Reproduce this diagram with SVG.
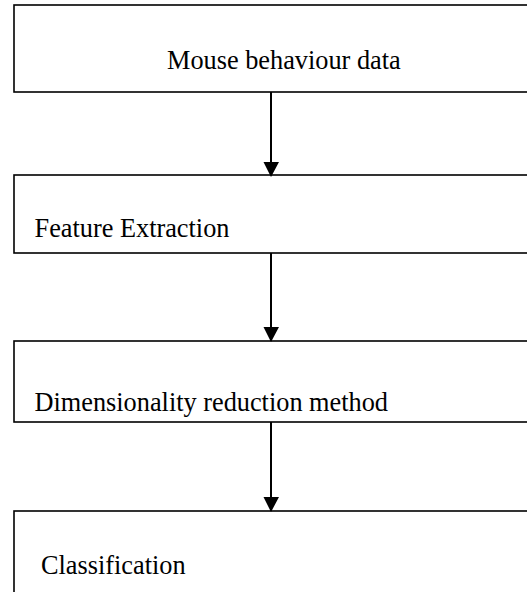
<svg xmlns="http://www.w3.org/2000/svg" width="527" height="592" viewBox="0 0 527 592">
<style>
.box{fill:#fff;stroke:#000;stroke-width:1.6}
.lbl{font-family:"Liberation Serif","Times New Roman",serif;font-size:26.3px;fill:#000}
.conn{stroke:#000;stroke-width:2;fill:none;marker-end:url(#ah)}
</style>
<defs>
<marker id="ah" markerUnits="userSpaceOnUse" markerWidth="16" markerHeight="16" refX="8" refY="15" orient="auto-start-reverse" viewBox="0 0 16 16">
<path d="M0,0 L16,0 L8,15 Z" fill="#000" transform="rotate(-90 8 8)"/>
</marker>
</defs>
<rect width="527" height="592" fill="#fff"/>
<g id="n1"><rect class="box" x="14" y="5" width="600" height="87"/><text class="lbl" x="167" y="68.5">Mouse behaviour data</text></g>
<g id="n2"><rect class="box" x="14" y="175" width="600" height="78"/><text class="lbl" x="34.5" y="236.7">Feature Extraction</text></g>
<g id="n3"><rect class="box" x="14" y="341" width="600" height="81"/><text class="lbl" x="34.5" y="410.7">Dimensionality reduction method</text></g>
<g id="n4"><rect class="box" x="14" y="511" width="600" height="120"/><text class="lbl" x="41" y="574">Classification</text></g>
<g id="connectors">
<path d="M271,92 V175" stroke="#000" stroke-width="2"/>
<path d="M263.5,162 L279,162 L271,177 Z" fill="#000"/>
<path d="M271,253 V341" stroke="#000" stroke-width="2"/>
<path d="M263.5,327 L279,327 L271,342 Z" fill="#000"/>
<path d="M271,422 V511" stroke="#000" stroke-width="2"/>
<path d="M263.5,497 L279,497 L271,512 Z" fill="#000"/>
</g>
</svg>
